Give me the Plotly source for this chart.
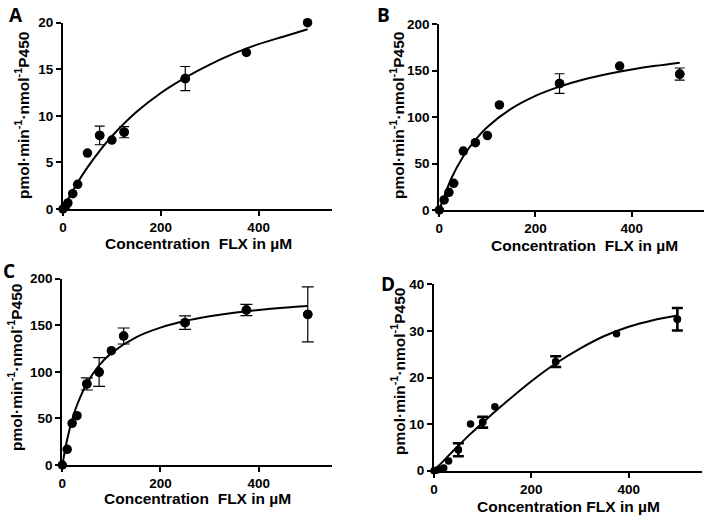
import plotly.graph_objects as go

# ---------------- data ----------------
# Panel A
a_x = [0, 5, 10, 20, 30, 50, 75, 100, 125, 250, 375, 500]
a_y = [0, 0.25, 0.65, 1.65, 2.65, 6.0, 7.9, 7.4, 8.25, 14.0, 16.8, 20.0]
a_err = [0, 0, 0, 0, 0, 0, 1.0, 0, 0.6, 1.3, 0, 0]
a_fit_x = [0, 10, 25, 50, 75, 100, 150, 200, 250, 300, 350, 400, 450, 500]
a_fit_y = [0, 1.01, 2.42, 4.47, 6.25, 7.81, 10.4, 12.45, 14.1, 15.5, 16.7, 17.7, 18.5, 19.3]

# Panel B
b_x = [0, 10, 20, 30, 50, 75, 100, 125, 250, 375, 500]
b_y = [0, 10.8, 19, 28.7, 63.4, 72.4, 80, 113, 136, 154.8, 146.2]
b_err = [0, 0, 0, 0, 0, 0, 0, 0, 10.5, 0, 6.5]
b_fit_x = [0, 25, 50, 75, 100, 150, 200, 250, 300, 350, 400, 450, 500]
b_fit_y = [0, 33.9, 57.8, 75.5, 89.3, 109.1, 122.8, 132.7, 140.3, 146.2, 151.1, 155.0, 158.4]

# Panel C
c_x = [0, 10, 20, 30, 50, 75, 100, 125, 250, 375, 500]
c_y = [0, 16.8, 44.7, 53, 87, 99.8, 122.7, 138.5, 152.8, 166.4, 161.7]
c_err = [0, 0, 0, 0, 6.5, 15.4, 0, 8.6, 7.2, 6.0, 29.6]
c_fit_x = [0, 10, 20, 30, 50, 75, 100, 150, 200, 250, 300, 350, 400, 450, 500]
c_fit_y = [0, 27.7, 48.4, 64.4, 87.6, 106.9, 120.1, 137.1, 147.5, 154.5, 159.6, 163.5, 166.4, 168.9, 170.8]

# Panel D
d_x = [0, 5, 10, 20, 30, 50, 75, 100, 125, 250, 375, 500]
d_y = [0, 0.1, 0.3, 0.6, 2.1, 4.5, 10.0, 10.4, 13.7, 23.4, 29.4, 32.5]
d_err = [0, 0, 0, 0, 0, 1.4, 0, 1.15, 0, 1.15, 0, 2.4]
d_fit_x = [0, 25, 50, 75, 100, 125, 150, 200, 250, 300, 350, 400, 450, 500]
d_fit_y = [0, 2.7, 5.35, 7.9, 10.3, 12.65, 14.9, 19.2, 23.0, 26.2, 28.9, 30.9, 32.3, 33.3]

x_ticks = [0, 200, 400]
a_ticks = [0, 5, 10, 15, 20]
b_ticks = [0, 50, 100, 150, 200]
c_ticks = [0, 50, 100, 150, 200]
d_ticks = [0, 10, 20, 30, 40]

panel_letters = ["A", "B", "C", "D"]
y_title = "pmol·min<sup>-1</sup>·nmol<sup>-1</sup>P450"
x_title_abc = "Concentration\u00a0 FLX in µM"
x_title_d = "Concentration FLX in µM"

# ---------------- figure ----------------
W, H = 709, 518
FONT = "Liberation Sans"

fig = go.Figure()

panels = [
    (a_x, a_y, a_err, a_fit_x, a_fit_y, "", 9.5, 1.2, 5),
    (b_x, b_y, b_err, b_fit_x, b_fit_y, "2", 9.5, 1.2, 5),
    (c_x, c_y, c_err, c_fit_x, c_fit_y, "3", 9.5, 1.2, 6),
    (d_x, d_y, d_err, d_fit_x, d_fit_y, "4", 7.5, 2.6, 5.5),
]

for px_, py_, pe_, fx, fy, s, msize, eth, ew in panels:
    xa, ya = "x" + s, "y" + s
    fig.add_trace(go.Scatter(x=fx, y=fy, mode="lines",
                             line=dict(color="black", width=2, shape="spline", smoothing=0.8),
                             xaxis=xa, yaxis=ya, hoverinfo="skip", showlegend=False, cliponaxis=False))
    fig.add_trace(go.Scatter(x=px_, y=py_, mode="markers",
                             marker=dict(color="black", size=msize, symbol="circle"),
                             xaxis=xa, yaxis=ya, showlegend=False, cliponaxis=False))
    ex = [x for x, e in zip(px_, pe_) if e > 0]
    ey = [y for y, e in zip(py_, pe_) if e > 0]
    ee = [e for e in pe_ if e > 0]
    fig.add_trace(go.Scatter(x=ex, y=ey, mode="markers",
                             marker=dict(color="black", size=msize, symbol="circle"),
                             error_y=dict(type="data", array=ee, visible=True, color="black",
                                          thickness=eth, width=ew),
                             xaxis=xa, yaxis=ya, showlegend=False, cliponaxis=False))

def px2x(p):
    return p / W

def px2y(p):
    return 1 - p / H

# axis geometry in pixels: (x_left, x_right, y_top, y_bottom)
geom = {
    "": (63, 332, 22.7, 209),
    "2": (439.3, 703.8, 24, 210),
    "3": (62.3, 332.3, 278.7, 465),
    "4": (434, 701.7, 284.3, 470.7),
}
yranges = {"": (0, 20, a_ticks), "2": (0, 200, b_ticks), "3": (0, 200, c_ticks), "4": (0, 40, d_ticks)}

tickfont = dict(family=FONT, size=13.5, color="black", weight="bold")
layout_axes = {}
for s, (xl, xr, yt, yb) in geom.items():
    y0, y1, yt_vals = yranges[s]
    layout_axes["xaxis" + s] = dict(
        domain=[px2x(xl), px2x(xr)], range=[0, 550], anchor="y" + s,
        showline=True, linecolor="black", linewidth=2, ticks="outside", ticklen=5, tickwidth=2,
        tickcolor="black", tickvals=x_ticks, showgrid=False, zeroline=False, tickfont=tickfont,
        fixedrange=True, automargin=False)
    layout_axes["yaxis" + s] = dict(
        domain=[px2y(yb), px2y(yt)], range=[y0, y1], anchor="x" + s,
        showline=True, linecolor="black", linewidth=2, ticks="outside", ticklen=5, tickwidth=2,
        tickcolor="black", tickvals=yt_vals, showgrid=False, zeroline=False, tickfont=tickfont,
        fixedrange=True, automargin=False)

fig.update_layout(width=W, height=H, margin=dict(l=0, r=0, t=0, b=0, autoexpand=False),
                  paper_bgcolor="white", plot_bgcolor="white", **layout_axes)

annotations = []
# panel letters (top-anchored)
letter_pos = [(16, 0), (383, 0), (9, 256), (388, 269)]
for t, (lx, ly) in zip(panel_letters, letter_pos):
    annotations.append(dict(text=t, x=px2x(lx), y=px2y(ly), xref="paper", yref="paper",
                            xanchor="center", yanchor="top", showarrow=False,
                            font=dict(family="Open Sans", size=19, color="black", weight="bold")))
# y titles
ytitle_pos = [(22, 116), (397, 116), (15, 368), (398, 372)]
for (tx, ty) in ytitle_pos:
    annotations.append(dict(text=y_title, x=px2x(tx), y=px2y(ty), xref="paper", yref="paper",
                            xanchor="center", yanchor="middle", textangle=-90, showarrow=False,
                            font=dict(family=FONT, size=15.5, color="black", weight="bold")))
# x titles
xtitle_pos = [(198, 244, x_title_abc), (584, 246, x_title_abc), (197, 498, x_title_abc), (568, 506, x_title_d)]
for (tx, ty, tt) in xtitle_pos:
    annotations.append(dict(text=tt, x=px2x(tx), y=px2y(ty), xref="paper", yref="paper",
                            xanchor="center", yanchor="middle", showarrow=False,
                            font=dict(family=FONT, size=15.5, color="black", weight="bold")))

fig.update_layout(annotations=annotations)

fig.write_html("out.html", config={"displayModeBar": False},
               post_script="document.body.style.margin='0';document.body.style.overflow='hidden';")
